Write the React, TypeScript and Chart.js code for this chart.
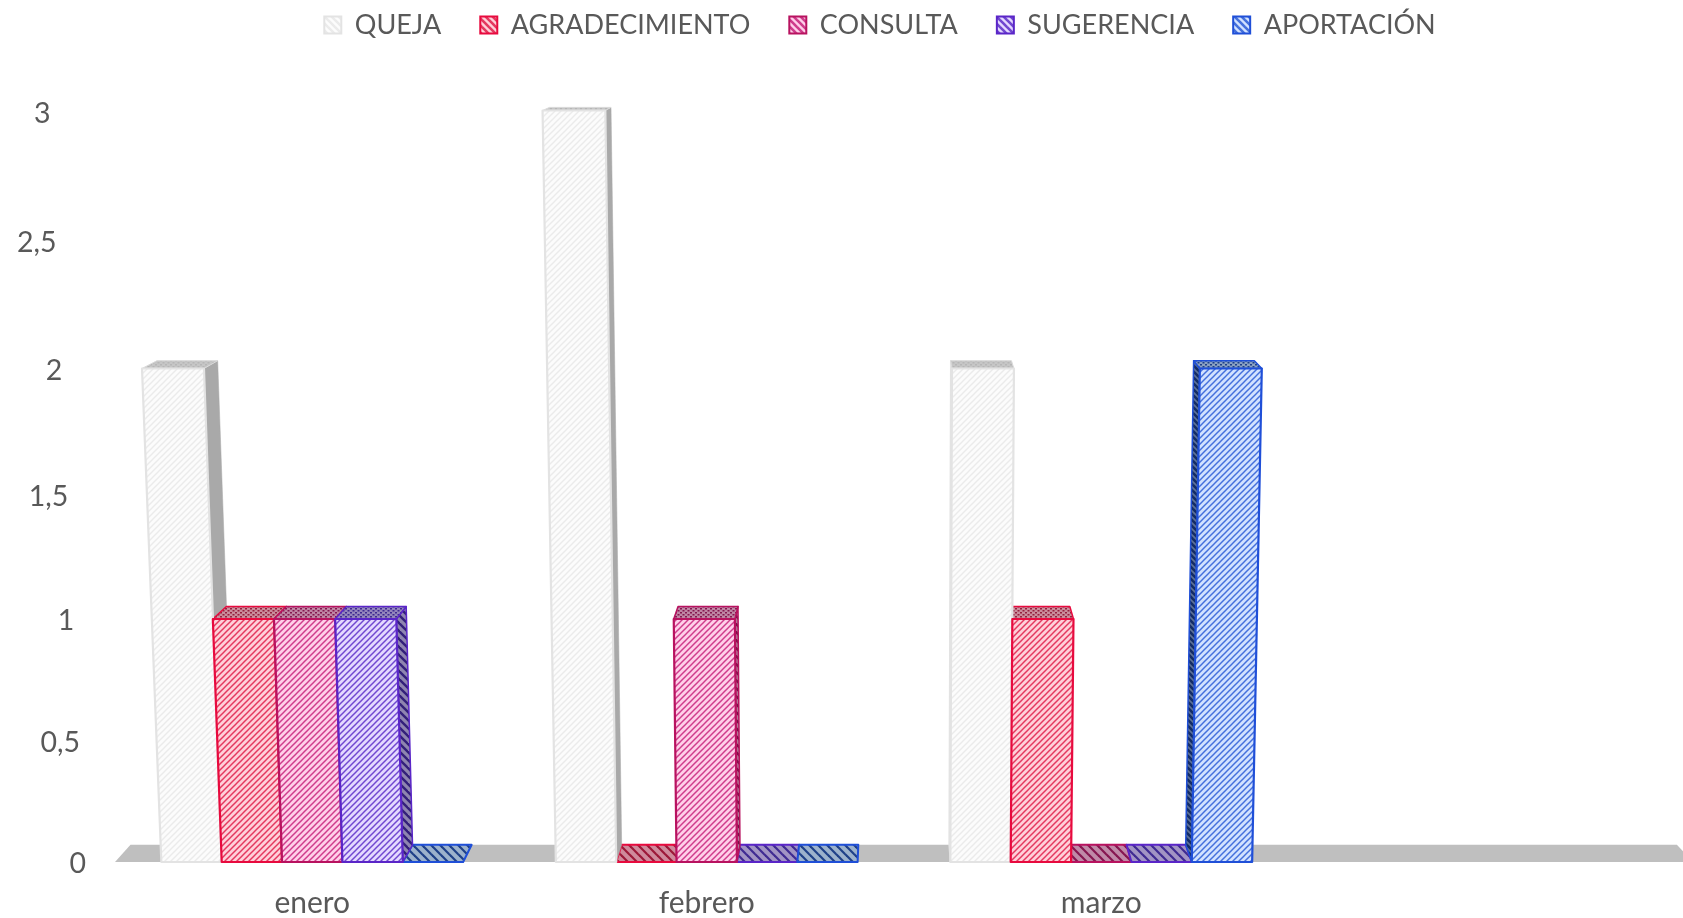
import React, { useEffect, useRef } from "react";
import { Chart, registerables, LinearScale } from "chart.js";

const categories = ["enero", "febrero", "marzo", ""];
const seriesNames = ["QUEJA", "AGRADECIMIENTO", "CONSULTA", "SUGERENCIA", "APORTACIÓN"];
const queja = [2, 3, 2, 0];
const agradecimiento = [1, 0, 1, 0];
const consulta = [1, 1, 0, 0];
const sugerencia = [1, 0, 0, 0];
const aportacion = [0, 0, 2, 0];
const seriesValues = [queja, agradecimiento, consulta, sugerencia, aportacion];

const FONT = "Lato, Carlito, Calibri, sans-serif";
const TEXT = "#595959";
const VANISH_X = 889;
const LEAN = 0.0133;
const DEPTH_X = 0.02;
const DEPTH_Y0 = 17.2;
const DEPTH_YV = 4.7;

type Palette = { stroke: string; front: [string, string]; side: [string, string]; top: [string, string]; flat: [string, string] };
const palettes: Palette[] = [
  { stroke: "#e3e3e3", front: ["#fcfcfc", "#ebebeb"], side: ["#a9a9a9", "#a2a2a2"], top: ["#c6c6c6", "#b6b6b6"], flat: ["#c6c6c6", "#b6b6b6"] },
  { stroke: "#e80a3e", front: ["#ffd0d9", "#e4385f"], side: ["#c48a98", "#8c1030"], top: ["#c98e9c", "#96203f"], flat: ["#cf8a9c", "#9c1838"] },
  { stroke: "#b8125f", front: ["#ffcfe9", "#cf3c8c"], side: ["#b27a98", "#7a0f48"], top: ["#bf86a4", "#861650"], flat: ["#c08aa8", "#861650"] },
  { stroke: "#5a25c8", front: ["#e4d9ff", "#7048d0"], side: ["#8f85b0", "#33207a"], top: ["#9486bc", "#3f2a92"], flat: ["#a294c4", "#3f2a92"] },
  { stroke: "#1f4fd8", front: ["#d2e2ff", "#4470dc"], side: ["#5f7398", "#142c66"], top: ["#8aa0c2", "#1e4088"], flat: ["#9cb2cc", "#1e4088"] },
];

function hatch(ctx: CanvasRenderingContext2D, [bg, fg]: [string, string], rising: boolean, period: number, width: number) {
  const c = document.createElement("canvas");
  c.width = period;
  c.height = period;
  const g = c.getContext("2d")!;
  g.fillStyle = bg;
  g.fillRect(0, 0, period, period);
  g.strokeStyle = fg;
  g.lineWidth = width;
  for (let i = -1; i <= 1; i++) {
    g.beginPath();
    if (rising) {
      g.moveTo(i * period - 1, period + 1);
      g.lineTo(i * period + period + 1, -1);
    } else {
      g.moveTo(i * period - 1, -1);
      g.lineTo(i * period + period + 1, period + 1);
    }
    g.stroke();
  }
  return ctx.createPattern(c, "repeat")!;
}

function dots(ctx: CanvasRenderingContext2D, [bg, fg]: [string, string]) {
  const c = document.createElement("canvas");
  c.width = 5;
  c.height = 4;
  const g = c.getContext("2d")!;
  g.fillStyle = bg;
  g.fillRect(0, 0, 5, 4);
  g.fillStyle = fg;
  g.fillRect(0, 0, 2, 1.5);
  g.fillRect(2.5, 2, 2, 1.5);
  return ctx.createPattern(c, "repeat")!;
}

class PerspectiveScale extends LinearScale {
  static id = "perspective";
  static defaults = LinearScale.defaults;
  getPixelForValue(value: number) {
    const s = this as any;
    const t = (value - s.min) / (s.max - s.min);
    const w = 0.955 * t + 0.045 * t * t;
    return s.bottom - w * (s.bottom - s.top);
  }
  _computeLabelItems(area: any) {
    const items = (LinearScale.prototype as any)._computeLabelItems.call(this, area);
    const s = this as any;
    items.forEach((it: any, i: number) => {
      const v = s.ticks[i]?.value ?? 0;
      const tr = it.options?.translation ?? it.translation;
      if (tr) {
        tr[0] -= v * 11.8;
        tr[1] += 1.5 + v * 0.5;
      }
    });
    return items;
  }
}

Chart.register(...registerables, PerspectiveScale as any);

function poly(ctx: CanvasRenderingContext2D, pts: number[][], fill: any, stroke: string | null, lw = 2) {
  ctx.beginPath();
  pts.forEach(([x, y], i) => (i ? ctx.lineTo(x, y) : ctx.moveTo(x, y)));
  ctx.closePath();
  ctx.fillStyle = fill;
  ctx.fill();
  if (stroke) {
    ctx.strokeStyle = stroke;
    ctx.lineWidth = lw;
    ctx.lineJoin = "round";
    ctx.stroke();
  }
}

const lean = (x: number, v: number) => x - (VANISH_X - x) * LEAN * v;
const back = (p: number[], v: number) => [p[0] + (VANISH_X - p[0]) * DEPTH_X, p[1] - (DEPTH_Y0 - DEPTH_YV * v)];

const bars3d = {
  id: "bars3d",
  beforeInit(chart: any) {
    const fit = chart.legend.fit;
    chart.legend.fit = function () {
      fit.call(this);
      this.height = 138;
    };
  },
  afterLayout(chart: any) {
    chart.legend.left += 33.5;
    chart.legend.right += 33.5;
  },
  beforeDatasetsDraw(chart: any) {
    const ctx: CanvasRenderingContext2D = chart.ctx;
    const area = chart.chartArea;
    const base = chart.scales.y.getPixelForValue(0);
    const fl = [area.left, base];
    const fr = [area.right, base];
    poly(ctx, [fl, fr, back(fr, 0), back(fl, 0)], "#bfbfbf", null);

    const jobs: { ds: number; idx: number; v: number; el: any }[] = [];
    chart.data.datasets.forEach((d: any, ds: number) => {
      chart.getDatasetMeta(ds).data.forEach((el: any, idx: number) => {
        if (categories[idx] !== "") jobs.push({ ds, idx, v: d.data[idx], el });
      });
    });

    const geom = (el: any, v: number) => {
      const { x, y, width, base: b } = el.getProps(["x", "y", "width", "base"], true);
      const l = x - width / 2;
      const r = x + width / 2;
      return { l, r, bl: [l, b], br: [r, b], tl: [lean(l, v), y], tr: [lean(r, v), y] };
    };

    // Flat (zero) bars lie on the floor, under everything that stands.
    for (const { ds, v, el } of jobs.filter((j) => j.v === 0)) {
      const { bl, br } = geom(el, v);
      poly(ctx, [bl, br, back(br, 0), back(bl, 0)], hatch(ctx, palettes[ds].flat, false, 9, 2.2), palettes[ds].stroke, 2);
    }
    const standing = jobs.filter((j) => j.v !== 0);
    // Receding faces first.
    for (const { ds, v, el } of standing) {
      const pal = palettes[ds];
      const { l, r, bl, br, tl, tr } = geom(el, v);
      if (r < VANISH_X) {
        poly(ctx, [br, tr, back(tr, v), back(br, 0)], ds === 0 ? pal.side[0] : hatch(ctx, pal.side, false, 8, 2.4), ds === 0 ? "#a6a6a6" : pal.stroke, ds === 0 ? 0.5 : 1.5);
      }
      if (l > VANISH_X) {
        poly(ctx, [bl, tl, back(tl, v), back(bl, 0)], hatch(ctx, pal.side, false, 6, 2.6), pal.stroke, 1.5);
      }
      poly(ctx, [tl, tr, back(tr, v), back(tl, v)], dots(ctx, pal.top), ds === 0 ? "#d9d9d9" : pal.stroke, ds === 0 ? 1 : 1.5);
    }
    // Front faces last.
    for (const { ds, v, el } of standing) {
      const pal = palettes[ds];
      const { bl, br, tl, tr } = geom(el, v);
      poly(ctx, [bl, br, tr, tl], hatch(ctx, pal.front, true, 6, 1.5), pal.stroke, 2.2);
    }
    return false;
  },
};

export default function App() {
  const ref = useRef<HTMLCanvasElement>(null);
  useEffect(() => {
    const canvas = ref.current!;
    const ctx = canvas.getContext("2d")!;
    const chart = new Chart(canvas, {
      type: "bar",
      data: {
        labels: categories,
        datasets: seriesNames.map((label, i) => ({
          label,
          data: seriesValues[i],
          backgroundColor: palettes[i].front[0],
          borderColor: palettes[i].stroke,
        })),
      },
      options: {
        animation: false,
        responsive: false,
        devicePixelRatio: 1,
        layout: { padding: { top: -27.5, right: 67, left: 0, bottom: 0 } },
        datasets: { bar: { barPercentage: 1, categoryPercentage: 0.765 } },
        scales: {
          x: {
            grid: { display: false, drawTicks: false },
            border: { display: false },
            afterFit: (s: any) => { s.height = 56; },
            ticks: { color: TEXT, font: { family: FONT, size: 30 }, padding: 23, maxRotation: 0, autoSkip: false },
          },
          y: {
            type: "perspective",
            min: 0,
            max: 3,
            grid: { display: false, drawTicks: false },
            border: { display: false },
            afterFit: (s: any) => { s.width = 115; },
            ticks: {
              stepSize: 0.5,
              padding: 29,
              color: TEXT,
              font: { family: FONT, size: 28.5 },
              callback: (v: any) => String(v).replace(".", ","),
            },
          },
        } as any,
        plugins: {
          tooltip: { enabled: false },
          legend: {
            position: "top",
            labels: {
              boxWidth: 17,
              boxHeight: 17,
              padding: 39,
              color: TEXT,
              font: { family: FONT, size: 27 },
              generateLabels: () =>
                seriesNames.map((text, i) => ({
                  text,
                  datasetIndex: i,
                  fillStyle: hatch(ctx, [palettes[i].front[0], i === 0 ? "#ebebeb" : palettes[i].front[1]], false, 7, 2.6),
                  strokeStyle: palettes[i].stroke,
                  lineWidth: 2,
                  fontColor: TEXT,
                })) as any,
            },
          },
        },
      },
      plugins: [bars3d as any],
    });
    return () => chart.destroy();
  }, []);
  return (
    <div style={{ position: "fixed", left: 0, top: 0, width: 1683, height: 918, overflow: "hidden", background: "#fff" }}>
      <canvas ref={ref} width={1760} height={918} style={{ display: "block", width: 1760, height: 918 }} />
    </div>
  );
}
